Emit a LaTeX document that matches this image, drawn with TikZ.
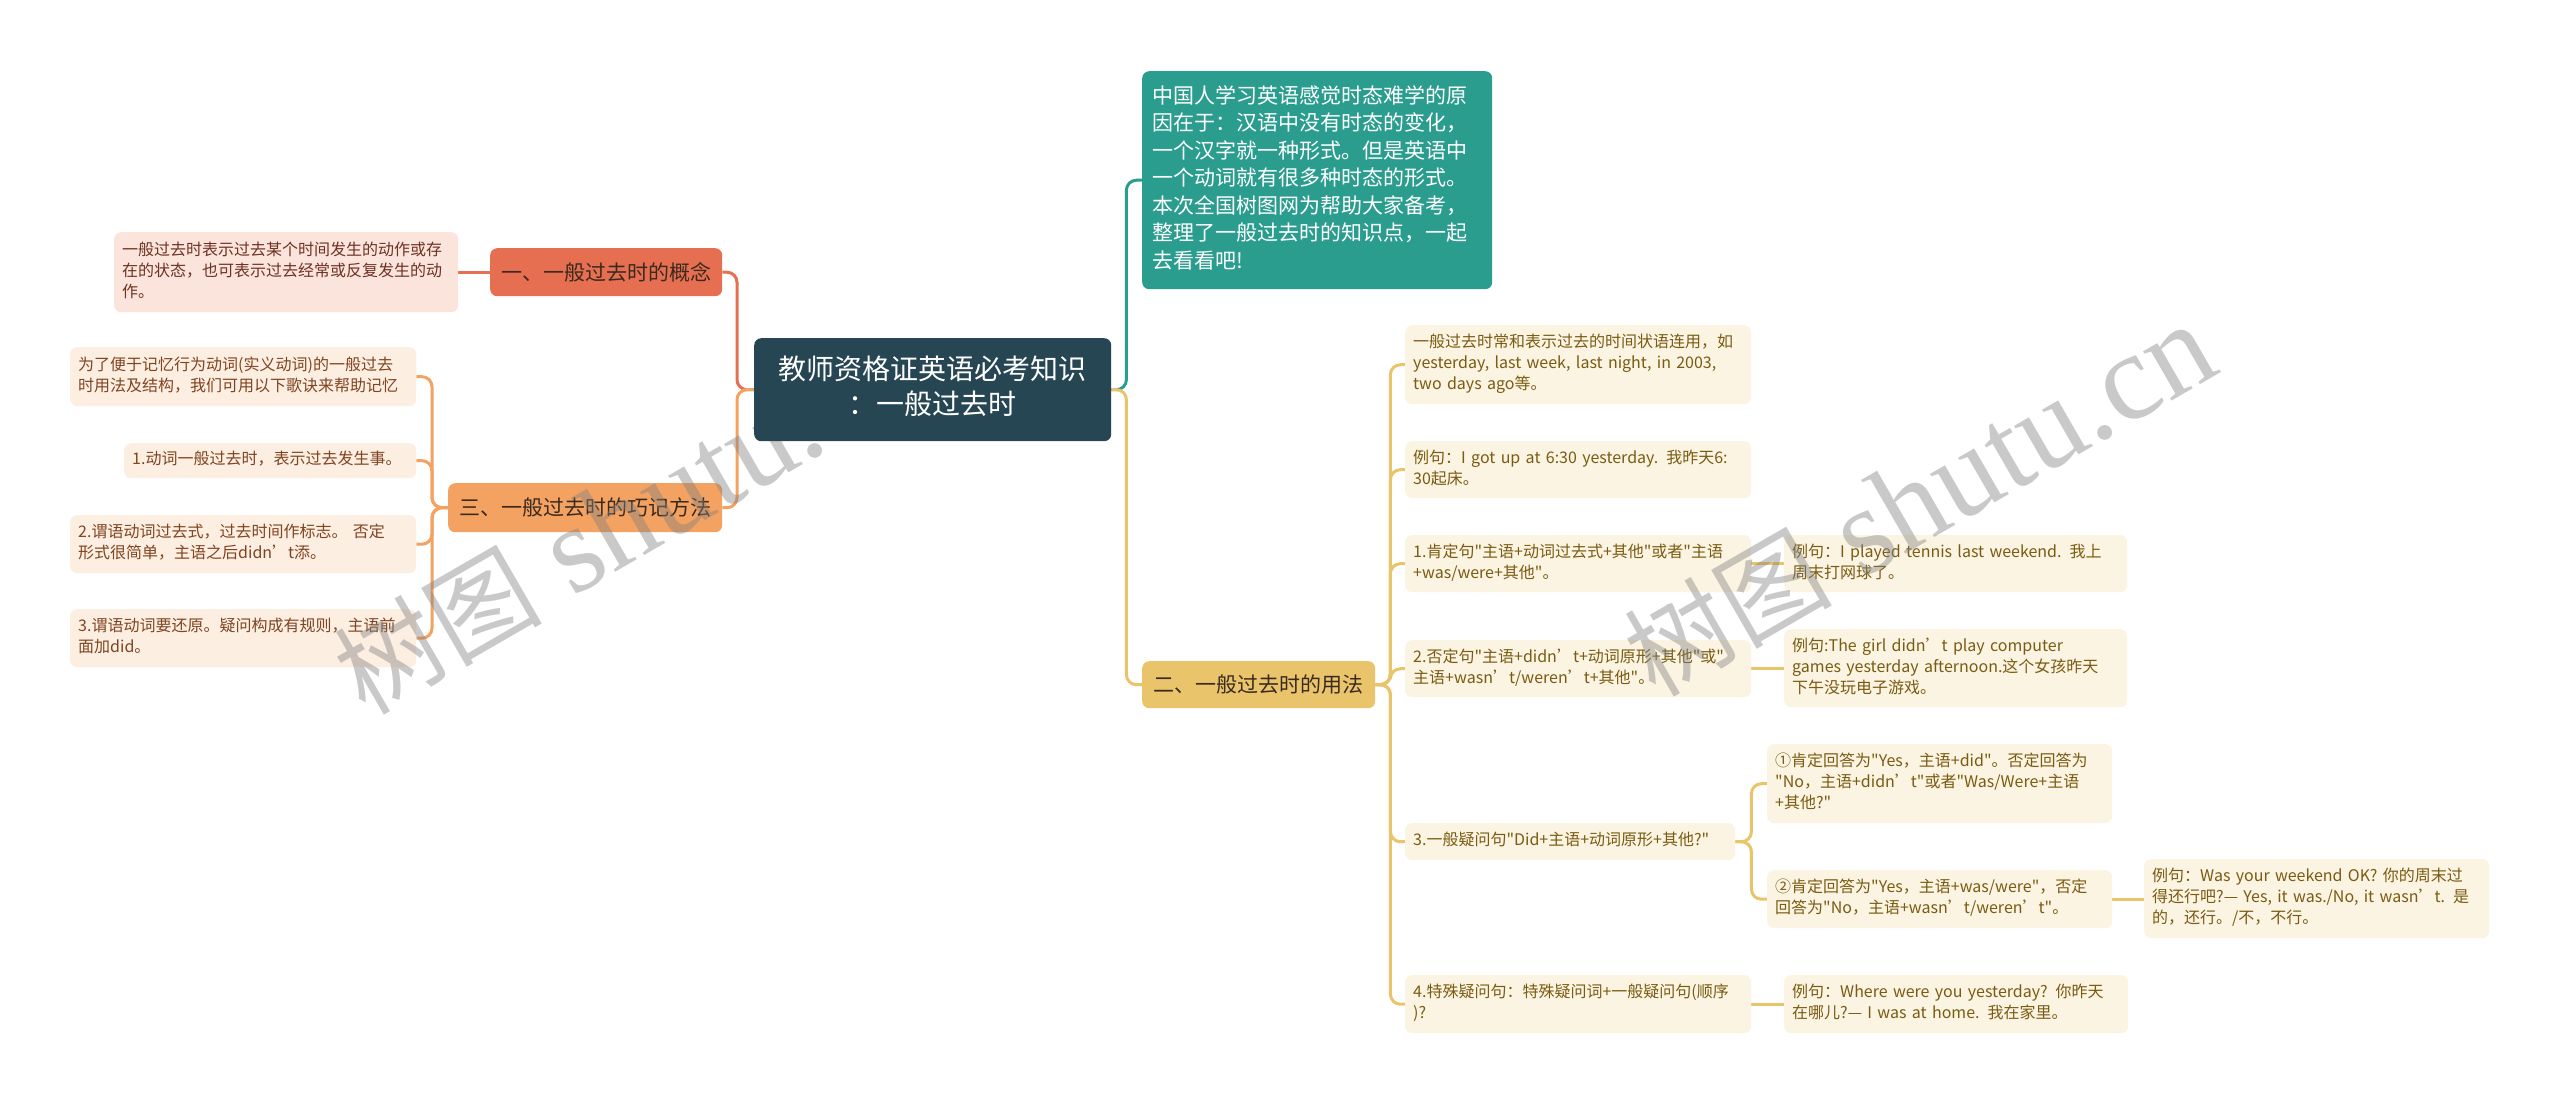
\documentclass[tikz,border=0pt]{standalone}
\usepackage{fontspec}
\newfontfamily\cjk{Noto Sans CJK SC}
\newfontfamily\wmlat{Liberation Serif}
\definecolor{rootc}{HTML}{264653}
\definecolor{tealc}{HTML}{2A9D8F}
\definecolor{cone}{HTML}{E76F51}
\definecolor{cthree}{HTML}{F4A261}
\definecolor{ctwo}{HTML}{E9C46A}
\definecolor{pinkfill}{HTML}{FBE4DC}
\definecolor{pinktext}{HTML}{6E3222}
\definecolor{orfill}{HTML}{FDEEE2}
\definecolor{ortext}{HTML}{7F4420}
\definecolor{yefill}{HTML}{FBF4E2}
\definecolor{yetext}{HTML}{7A5B12}
\definecolor{darktext}{HTML}{3A2A1E}
\pgfdeclarelayer{bg}
\pgfdeclarelayer{wm}
\pgfdeclarelayer{top}
\pgfsetlayers{bg,main,wm,top}
\newcommand\mlines[1]{\noindent\begin{tabular}{@{}l@{}}#1\end{tabular}}
\newcommand\clines[1]{\begin{tabular}{@{}c@{}}#1\end{tabular}}
\tikzset{
  bx/.style={rounded corners=7pt, anchor=north west, inner xsep=8pt, inner ysep=0pt},
  note/.style={bx, align=left, font=\cjk\fontsize{16}{21}\selectfont},
  pinknote/.style={note, fill=pinkfill, text=pinktext},
  ornote/.style={note, fill=orfill, text=ortext},
  yenote/.style={note, fill=yefill, text=yetext},
  lvlone/.style={bx, inner xsep=10pt, font=\cjk\fontsize{21}{26}\selectfont, text=darktext},
  rootbox/.style={bx, fill=rootc, text=white, font=\cjk\fontsize{28}{35}\selectfont},
  tealbox/.style={bx, inner xsep=10pt, fill=tealc, text=white, align=left, font=\cjk\fontsize{21}{27.5}\selectfont},
  conn/.style={line width=3pt, rounded corners=10pt},
  wmark/.style={anchor=base west, rotate=30, text=gray, text opacity=0.42, inner sep=0pt},
}
\begin{document}
\begin{tikzpicture}[x=1pt,y=-1pt]
\useasboundingbox (0,0) rectangle (2560,1104);

% left side
\node[pinknote, text width=328pt, minimum height=80pt] (p1) at (114,232) {\mlines{一般过去时表示过去某个时间发生的动作或存\\在的状态，也可表示过去经常或反复发生的动\\作。}};
\node[ornote, text width=330pt, minimum height=59pt] (t0) at (70,347) {\mlines{为了便于记忆行为动词(实义动词)的一般过去\\时用法及结构，我们可用以下歌诀来帮助记忆}};
\node[ornote, text width=276pt, minimum height=35pt] (t1) at (124,443) {\mlines{1.动词一般过去时，表示过去发生事。}};
\node[ornote, text width=330pt, minimum height=58pt] (t2) at (70,515) {\mlines{2.谓语动词过去式，过去时间作标志。 否定\\形式很简单，主语之后didn’t添。}};
\node[ornote, text width=330pt, minimum height=58pt] (t3) at (70,609) {\mlines{3.谓语动词要还原。疑问构成有规则，主语前\\面加did。}};
\node[lvlone, fill=cone, minimum width=232pt, minimum height=48pt] (l1) at (490,248) {一、一般过去时的概念};
\node[lvlone, fill=cthree, minimum width=274pt, minimum height=49pt] (l3) at (448,483) {三、一般过去时的巧记方法};

% right side
\node[tealbox, text width=330pt, minimum height=218pt] (teal) at (1142,71) {\mlines{中国人学习英语感觉时态难学的原\\因在于：汉语中没有时态的变化，\\一个汉字就一种形式。但是英语中\\一个动词就有很多种时态的形式。\\本次全国树图网为帮助大家备考，\\整理了一般过去时的知识点，一起\\去看看吧!}};
\node[lvlone, fill=ctwo, minimum width=233pt, minimum height=47pt] (l2) at (1142,661) {二、一般过去时的用法};
\node[yenote, text width=330pt, minimum height=79pt] (n1) at (1405,325) {\mlines{一般过去时常和表示过去的时间状语连用，如\\yesterday, last week, last night, in 2003,\\two days ago等。}};
\node[yenote, text width=330pt, minimum height=57pt] (n2) at (1405,441) {\mlines{例句：I got up at 6:30 yesterday. 我昨天6:\\30起床。}};
\node[yenote, text width=330pt, minimum height=57pt] (n3) at (1405,535) {\mlines{1.肯定句"主语+动词过去式+其他"或者"主语\\+was/were+其他"。}};
\node[yenote, text width=330pt, minimum height=57pt] (n4) at (1405,640) {\mlines{2.否定句"主语+didn’t+动词原形+其他"或"\\主语+wasn’t/weren’t+其他"。}};
\node[yenote, text width=314pt, minimum height=37pt] (n5) at (1405,823) {\mlines{3.一般疑问句"Did+主语+动词原形+其他?"}};
\node[yenote, text width=330pt, minimum height=58pt] (n6) at (1405,975) {\mlines{4.特殊疑问句：特殊疑问词+一般疑问句(顺序\\)?}};
\node[yenote, text width=327pt, minimum height=57pt] (e3) at (1784,535) {\mlines{例句：I played tennis last weekend. 我上\\周末打网球了。}};
\node[yenote, text width=327pt, minimum height=78pt] (e4) at (1784,629) {\mlines{例句:The girl didn’t play computer\\games yesterday afternoon.这个女孩昨天\\下午没玩电子游戏。}};
\node[yenote, text width=329pt, minimum height=79pt] (a1) at (1767,744) {\mlines{①肯定回答为"Yes，主语+did"。否定回答为\\"No，主语+didn’t"或者"Was/Were+主语\\+其他?"}};
\node[yenote, text width=329pt, minimum height=58pt] (a2) at (1767,870) {\mlines{②肯定回答为"Yes，主语+was/were"，否定\\回答为"No，主语+wasn’t/weren’t"。}};
\node[yenote, text width=328pt, minimum height=58pt] (e6) at (1784,975) {\mlines{例句：Where were you yesterday? 你昨天\\在哪儿?— I was at home. 我在家里。}};
\node[yenote, text width=329pt, minimum height=79pt] (e7) at (2144,859) {\mlines{例句：Was your weekend OK? 你的周末过\\得还行吧?— Yes, it was./No, it wasn’t. 是\\的，还行。/不，不行。}};

% root
\begin{pgfonlayer}{top}
\node[rootbox, minimum width=357pt, minimum height=103pt] (root) at (754,338) {\clines{教师资格证英语必考知识\\：一般过去时}};
\end{pgfonlayer}

% watermark
\begin{pgfonlayer}{wm}
\node[wmark] (wml) at (365,717) {{\cjk\fontsize{104}{104}\selectfont 树图}{\wmlat\fontsize{124}{124}\selectfont\ shutu.cn}};
\node[wmark] (wmr) at (1655,699) {{\cjk\fontsize{104}{104}\selectfont 树图}{\wmlat\fontsize{124}{124}\selectfont\ shutu.cn}};
\end{pgfonlayer}

% connectors
\begin{pgfonlayer}{bg}
\fill[white] (0,0) rectangle (2560,1104);
\draw[conn, cone] (root.west) -- ++(-17,0) |- (l1.east);
\draw[conn, cthree] (root.west) -- ++(-17,0) |- (l3.east);
\draw[conn, cone] (l1.west) -- (p1.east);
\foreach \t in {t0,t1,t2,t3}
  \draw[conn, cthree] (l3.west) -- ++(-16,0) |- (\t.east);
\draw[conn, tealc] (root.east) -- ++(15,0) |- (teal.west);
\draw[conn, ctwo] (root.east) -- ++(15,0) |- (l2.west);
\foreach \n in {n1,n2,n3,n4,n5,n6}
  \draw[conn, ctwo] (l2.east) -- ++(15,0) |- (\n.west);
\draw[conn, ctwo] (n3.east) -- (e3.west);
\draw[conn, ctwo] (n4.east) -- (n4.east -| e4.west);
\draw[conn, ctwo] (n5.east) -- ++(16,0) |- (a1.west);
\draw[conn, ctwo] (n5.east) -- ++(16,0) |- (a2.west);
\draw[conn, ctwo] (a2.east) -- (a2.east -| e7.west);
\draw[conn, ctwo] (n6.east) -- (e6.west);
\end{pgfonlayer}
\end{tikzpicture}
\end{document}
